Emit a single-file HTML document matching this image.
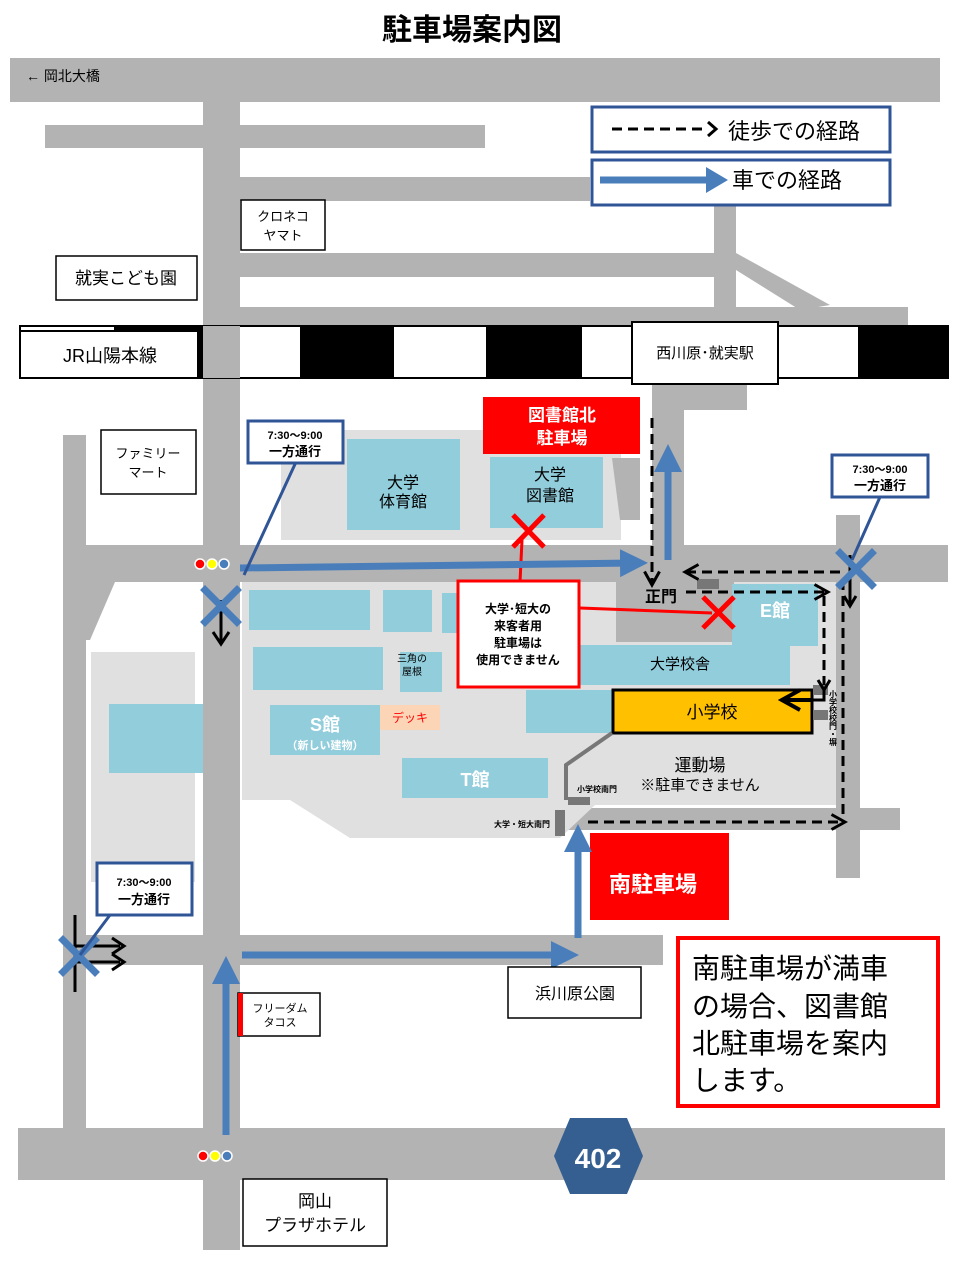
<!DOCTYPE html>
<html><head><meta charset="utf-8"><style>
html,body{margin:0;padding:0;background:#fff;}
svg{display:block;font-family:"Liberation Sans","Noto Sans CJK JP",sans-serif;}
</style></head><body>
<svg width="960" height="1280" viewBox="0 0 960 1280" xmlns="http://www.w3.org/2000/svg">
<defs>
<marker id="bh" markerWidth="4" markerHeight="4" refX="2" refY="2" orient="auto" markerUnits="strokeWidth"><path d="M0,0 L4,2 L0,4 Z" fill="#4a7ebb"/></marker>
<marker id="kh" markerWidth="6" markerHeight="6" refX="5" refY="3" orient="auto" markerUnits="strokeWidth"><path d="M0.5,0.5 L5,3 L0.5,5.5" fill="none" stroke="#000" stroke-width="1"/></marker>
</defs>
<text x="472" y="40" font-size="30" font-weight="bold" text-anchor="middle">駐車場案内図</text>

<!-- roads -->
<g fill="#b3b3b3">
<rect x="10" y="58" width="930" height="44"/>
<rect x="203" y="100" width="37" height="1150"/>
<rect x="45" y="125" width="440" height="23"/>
<rect x="240" y="177" width="350" height="24"/>
<rect x="714" y="200" width="22" height="110"/>
<rect x="240" y="253" width="474" height="24"/>
<polygon points="714,253 736,253 830,305 800,310 736,270"/>
<rect x="240" y="307" width="668" height="22"/>
<rect x="652" y="385" width="95" height="25"/>
<rect x="652" y="385" width="32" height="180"/>
<rect x="63" y="435" width="23" height="700"/>
<rect x="63" y="545" width="885" height="37"/>
<polygon points="86,582 115,582 90,640 86,640"/>
<rect x="836" y="515" width="24" height="363"/>
<rect x="560" y="808" width="340" height="22"/>
<rect x="63" y="935" width="600" height="30"/>
<rect x="18" y="1128" width="927" height="52"/>
</g>

<!-- railway -->
<rect x="20" y="326" width="928" height="52" fill="#fff" stroke="#000" stroke-width="2"/>
<g fill="#000">
<rect x="114" y="326" width="89" height="52"/>
<rect x="300" y="326" width="94" height="52"/>
<rect x="486" y="326" width="96" height="52"/>
<rect x="858" y="326" width="90" height="52"/>
</g>
<rect x="203" y="326" width="37" height="52" fill="#b3b3b3"/>
<rect x="20" y="331" width="178" height="47" fill="#fff" stroke="#000" stroke-width="2"/>
<text x="110" y="362" font-size="18" text-anchor="middle">JR山陽本線</text>
<rect x="632" y="322" width="146" height="62" fill="#fff" stroke="#000" stroke-width="2"/>
<text x="705" y="358" font-size="15" text-anchor="middle">西川原･就実駅</text>

<!-- top labels -->
<text x="26" y="81" font-size="14">←  岡北大橋</text>
<rect x="241" y="200" width="84" height="50" fill="#fff" stroke="#000" stroke-width="1.5"/>
<text x="283" y="221" font-size="13" text-anchor="middle">クロネコ</text>
<text x="283" y="240" font-size="13" text-anchor="middle">ヤマト</text>
<rect x="56" y="256" width="141" height="44" fill="#fff" stroke="#000" stroke-width="1.5"/>
<text x="126" y="284" font-size="17" text-anchor="middle">就実こども園</text>

<!-- legend -->
<rect x="592" y="107" width="298" height="45" fill="#fff" stroke="#2f5597" stroke-width="3"/>
<line x1="612" y1="129" x2="708" y2="129" stroke="#000" stroke-width="3" stroke-dasharray="10,6"/>
<path d="M708,122 L716,129 L708,136" fill="none" stroke="#000" stroke-width="3"/>
<text x="728" y="139" font-size="22">徒歩での経路</text>
<rect x="592" y="160" width="298" height="45" fill="#fff" stroke="#2f5597" stroke-width="3"/>
<line x1="600" y1="180" x2="708" y2="180" stroke="#4a7ebb" stroke-width="7"/>
<polygon points="706,167 728,180 706,193" fill="#4a7ebb"/>
<text x="732" y="188" font-size="22">車での経路</text>

<!-- campus -->
<g fill="#e0e0e0">
<rect x="281" y="430" width="340" height="110"/>
<polygon points="242,582 836,582 836,805 595,805 560,838 350,838 290,800 242,800"/>
<rect x="91" y="652" width="104" height="230"/>
</g>
<polygon points="612,458 640,458 640,520 620,520" fill="#b3b3b3"/>
<rect x="616" y="582" width="118" height="60" fill="#b3b3b3"/>
<g fill="#92cddc">
<rect x="347" y="439" width="113" height="91"/>
<rect x="490" y="457" width="113" height="71"/>
<rect x="249" y="590" width="121" height="40"/>
<rect x="383" y="590" width="49" height="42"/>
<rect x="442" y="593" width="16" height="40"/>
<rect x="253" y="647" width="130" height="43"/>
<rect x="400" y="652" width="42" height="40"/>
<rect x="109" y="704" width="94" height="69"/>
<rect x="270" y="705" width="110" height="50"/>
<rect x="402" y="758" width="146" height="40"/>
<rect x="732" y="584" width="86" height="62"/>
<rect x="580" y="645" width="210" height="40"/>
<rect x="526" y="690" width="87" height="43"/>
</g>
<rect x="380" y="705" width="60" height="25" fill="#fbd5b5"/>
<text x="410" y="722" font-size="12" fill="#ff0000" text-anchor="middle">デッキ</text>
<text x="403" y="488" font-size="16" text-anchor="middle">大学</text>
<text x="403" y="507" font-size="16" text-anchor="middle">体育館</text>
<text x="550" y="480" font-size="16" text-anchor="middle">大学</text>
<text x="550" y="501" font-size="16" text-anchor="middle">図書館</text>
<text x="412" y="662" font-size="10" text-anchor="middle">三角の</text>
<text x="412" y="675" font-size="10" text-anchor="middle">屋根</text>
<text x="325" y="731" font-size="18" font-weight="bold" fill="#fff" text-anchor="middle">S館</text>
<text x="325" y="749" font-size="11" font-weight="bold" fill="#fff" text-anchor="middle">（新しい建物）</text>
<text x="475" y="786" font-size="18" font-weight="bold" fill="#fff" text-anchor="middle">T館</text>
<text x="775" y="617" font-size="18" font-weight="bold" fill="#fff" text-anchor="middle">E館</text>
<text x="680" y="669" font-size="15" text-anchor="middle">大学校舎</text>
<rect x="613" y="690" width="199" height="43" fill="#ffc000" stroke="#000" stroke-width="3"/>
<text x="712" y="718" font-size="17" text-anchor="middle">小学校</text>
<text x="700" y="771" font-size="17" text-anchor="middle">運動場</text>
<text x="700" y="790" font-size="15" text-anchor="middle">※駐車できません</text>
<text x="661" y="602" font-size="16" font-weight="bold" text-anchor="middle">正門</text>
<!-- gates -->
<g fill="#777">
<rect x="697" y="579" width="22" height="10"/>
<rect x="813" y="685" width="15" height="10"/>
<rect x="813" y="710" width="15" height="10"/>
<rect x="568" y="797" width="22" height="8"/>
<rect x="555" y="810" width="10" height="26"/>
</g>
<polyline points="612,733 566,765 566,800" fill="none" stroke="#777" stroke-width="4"/>
<text x="597" y="792" font-size="8" font-weight="bold" text-anchor="middle">小学校南門</text>
<text x="522" y="827" font-size="8" font-weight="bold" text-anchor="middle">大学・短大南門</text>
<text x="833" y="690" font-size="8" font-weight="bold" writing-mode="tb">小学校校門・塀</text>

<!-- red -->
<rect x="483" y="397" width="157" height="57" fill="#ff0000"/>
<text x="562" y="421" font-size="17" font-weight="bold" fill="#fff" text-anchor="middle">図書館北</text>
<text x="562" y="444" font-size="17" font-weight="bold" fill="#fff" text-anchor="middle">駐車場</text>
<rect x="590" y="833" width="139" height="87" fill="#ff0000"/>
<text x="653" y="892" font-size="22" font-weight="bold" fill="#fff" text-anchor="middle">南駐車場</text>
<line x1="522" y1="540" x2="520" y2="582" stroke="#ff0000" stroke-width="3"/>
<line x1="580" y1="608" x2="712" y2="613" stroke="#ff0000" stroke-width="3"/>
<g stroke="#ff0000" stroke-width="5">
<line x1="513" y1="515" x2="544" y2="547"/><line x1="544" y1="515" x2="513" y2="547"/>
<line x1="703" y1="597" x2="734" y2="628"/><line x1="734" y1="597" x2="703" y2="628"/>
</g>
<rect x="458" y="581" width="121" height="106" fill="#fff" stroke="#ff0000" stroke-width="3"/>
<g font-size="12" font-weight="bold" text-anchor="middle">
<text x="518" y="613">大学･短大の</text>
<text x="518" y="630">来客者用</text>
<text x="518" y="647">駐車場は</text>
<text x="518" y="664">使用できません</text>
</g>
<rect x="678" y="938" width="260" height="168" fill="#fff" stroke="#ff0000" stroke-width="4"/>
<g font-size="28">
<text x="692" y="978">南駐車場が満車</text>
<text x="692" y="1016">の場合、図書館</text>
<text x="692" y="1053">北駐車場を案内</text>
<text x="692" y="1090">します。</text>
</g>

<!-- walking routes -->
<g stroke="#000" stroke-width="3" stroke-dasharray="10,6" fill="none">
<line x1="652" y1="418" x2="652" y2="585" marker-end="url(#kh)"/>
<line x1="840" y1="572" x2="685" y2="572" marker-end="url(#kh)"/>
<line x1="686" y1="592" x2="828" y2="592" marker-end="url(#kh)"/>
<line x1="824" y1="596" x2="824" y2="685"/>
<line x1="843" y1="580" x2="843" y2="822"/>
<line x1="588" y1="822" x2="845" y2="822" marker-end="url(#kh)"/>
</g>
<polyline points="812,700 782,700" stroke="#000" stroke-width="4" fill="none" marker-end="url(#kh)"/>
<polyline points="812,700 824,700 824,690" stroke="#000" stroke-width="3" fill="none"/>
<path d="M818,680 L824,690 L830,680" fill="none" stroke="#000" stroke-width="3"/>
<line x1="850" y1="555" x2="850" y2="605" stroke="#000" stroke-width="3"/>
<path d="M844,596 L850,606 L856,596" fill="none" stroke="#000" stroke-width="3"/>
<line x1="221" y1="600" x2="221" y2="643" stroke="#000" stroke-width="3"/>
<path d="M213,632 L221,644 L229,632" fill="none" stroke="#000" stroke-width="3"/>
<line x1="75" y1="915" x2="75" y2="992" stroke="#000" stroke-width="3"/>
<line x1="75" y1="946" x2="120" y2="946" stroke="#000" stroke-width="3"/>
<line x1="75" y1="962" x2="120" y2="962" stroke="#000" stroke-width="3"/>
<path d="M112,938 L124,946 L112,954 M112,954 L124,962 L112,970" fill="none" stroke="#000" stroke-width="3"/>

<!-- car routes -->
<g stroke="#4a7ebb" stroke-width="7" fill="none">
<line x1="240" y1="568" x2="634" y2="563" marker-end="url(#bh)"/>
<line x1="668" y1="560" x2="668" y2="458" marker-end="url(#bh)"/>
<line x1="242" y1="955" x2="565" y2="955" marker-end="url(#bh)"/>
<line x1="578" y1="938" x2="578" y2="838" marker-end="url(#bh)"/>
<line x1="226" y1="1135" x2="226" y2="970" marker-end="url(#bh)"/>
</g>

<!-- blue X -->
<g stroke="#4a7ebb" stroke-width="7" stroke-linecap="square">
<line x1="205" y1="590" x2="237" y2="622"/><line x1="237" y1="590" x2="205" y2="622"/>
<line x1="840" y1="553" x2="872" y2="585"/><line x1="872" y1="553" x2="840" y2="585"/>
<line x1="63" y1="940" x2="95" y2="972"/><line x1="95" y1="940" x2="63" y2="972"/>
</g>

<!-- callouts -->
<g stroke="#2f5597" stroke-width="3">
<line x1="296" y1="462" x2="244" y2="575"/>
<line x1="880" y1="497" x2="852" y2="560"/>
<line x1="110" y1="915" x2="80" y2="955"/>
</g>
<g fill="#fff" stroke="#2f5597" stroke-width="3">
<rect x="248" y="421" width="95" height="42"/>
<rect x="832" y="455" width="96" height="42"/>
<rect x="97" y="863" width="95" height="52"/>
</g>
<g font-size="11" font-weight="bold" text-anchor="middle">
<text x="295" y="439">7:30～9:00</text><text x="295" y="456" font-size="13">一方通行</text>
<text x="880" y="473">7:30～9:00</text><text x="880" y="490" font-size="13">一方通行</text>
<text x="144" y="886">7:30～9:00</text><text x="144" y="904" font-size="13">一方通行</text>
</g>

<!-- signals -->
<g stroke="#fff" stroke-width="1.5">
<circle cx="200" cy="564" r="5" fill="#ff0000"/><circle cx="212" cy="564" r="5" fill="#ffff00"/><circle cx="224" cy="564" r="5" fill="#4a7ebb"/>
<circle cx="203" cy="1156" r="5" fill="#ff0000"/><circle cx="215" cy="1156" r="5" fill="#ffff00"/><circle cx="227" cy="1156" r="5" fill="#4a7ebb"/>
</g>

<!-- other labels -->
<rect x="101" y="430" width="95" height="64" fill="#fff" stroke="#000" stroke-width="1.5"/>
<text x="148" y="458" font-size="13" text-anchor="middle">ファミリー</text>
<text x="148" y="477" font-size="13" text-anchor="middle">マート</text>
<rect x="238" y="993" width="82" height="43" fill="#fff" stroke="#000" stroke-width="1.5"/>
<rect x="238" y="993" width="5" height="43" fill="#ff0000"/>
<text x="280" y="1012" font-size="11" text-anchor="middle">フリーダム</text>
<text x="280" y="1026" font-size="11" text-anchor="middle">タコス</text>
<rect x="508" y="967" width="133" height="51" fill="#fff" stroke="#000" stroke-width="1.5"/>
<text x="575" y="999" font-size="16" text-anchor="middle">浜川原公園</text>
<rect x="243" y="1179" width="144" height="67" fill="#fff" stroke="#000" stroke-width="1.5"/>
<text x="315" y="1207" font-size="17" text-anchor="middle">岡山</text>
<text x="315" y="1231" font-size="17" text-anchor="middle">プラザホテル</text>
<polygon points="570,1118 627,1118 643,1156 627,1194 570,1194 554,1156" fill="#355f91"/>
<text x="598" y="1168" font-size="28" font-weight="bold" fill="#fff" text-anchor="middle">402</text>
</svg>
</body></html>
